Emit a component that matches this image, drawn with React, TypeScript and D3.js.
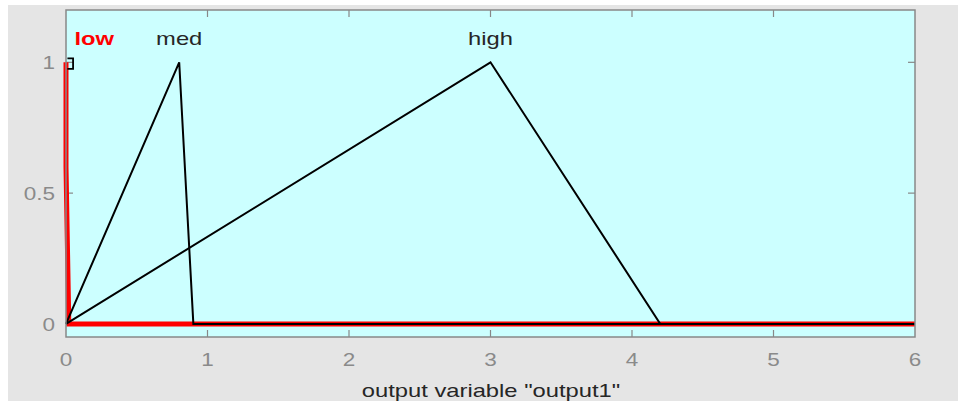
import React, { useEffect, useRef } from 'react';
import * as d3 from 'd3';

// membership functions of "output1"
const mfNames = ['low', 'med', 'high'];
const lowPts: [number, number][] = [[0, 1], [0, 0.6], [0.02, 0], [6, 0]];
const medPts: [number, number][] = [[0, 0], [0.8, 1], [0.9, 0], [6, 0]];
const highPts: [number, number][] = [[0, 0], [3, 1], [4.2, 0], [6, 0]];
const lowCap: [number, number][] = [[0.01, 1.015], [0.05, 1.015], [0.05, 0.975], [0.01, 0.975]];
const labelX = [0.2, 0.8, 3];
const xTicks = [0, 1, 2, 3, 4, 5, 6];
const yTicks = [0, 0.5, 1];
const xTitle = 'output variable "output1"';

export default function App() {
  const ref = useRef<SVGSVGElement>(null);

  useEffect(() => {
    const svg = d3.select(ref.current);
    svg.selectAll('*').remove();

    const W = 958, H = 401;
    const left = 66, right = 915, top = 10, bottom = 337;
    const stretch = 1.25; // the screenshot text is wide

    const x = d3.scaleLinear().domain([0, 6]).range([left, right]);
    const y = d3.scaleLinear().domain([-0.05, 1.2]).range([bottom, top]);

    // grey figure background
    svg.append('rect').attr('width', W).attr('height', H).attr('fill', '#ffffff');
    svg.append('rect').attr('x', 8).attr('y', 5).attr('width', W - 8).attr('height', H - 5).attr('fill', '#e5e5e5');

    // plot box
    svg.append('rect')
      .attr('x', left).attr('y', top)
      .attr('width', right - left).attr('height', bottom - top)
      .attr('fill', '#ccffff');

    const font = 'Liberation Sans, Arial, sans-serif';

    const txt = (g: any, tx: number, ty: number, s: string, size: number, fill: string, anchor: string) =>
      g.append('text')
        .attr('transform', `translate(${tx},${ty}) scale(${stretch},1)`)
        .attr('text-anchor', anchor)
        .attr('font-family', font).attr('font-size', size).attr('fill', fill)
        .text(s);

    // ticks on all four sides, pointing in
    const tickLen = 7;
    const tk = svg.append('g').attr('stroke', '#888').attr('stroke-width', 1.2);
    xTicks.slice(1, -1).forEach(t => {
      tk.append('line').attr('x1', x(t)).attr('x2', x(t)).attr('y1', bottom).attr('y2', bottom - tickLen);
      tk.append('line').attr('x1', x(t)).attr('x2', x(t)).attr('y1', top).attr('y2', top + tickLen);
    });
    yTicks.forEach(t => {
      tk.append('line').attr('x1', left).attr('x2', left + tickLen).attr('y1', y(t)).attr('y2', y(t));
      tk.append('line').attr('x1', right).attr('x2', right - tickLen).attr('y1', y(t)).attr('y2', y(t));
    });

    const fmt = d3.format('~g');
    const xl = svg.append('g');
    xTicks.forEach(d => txt(xl, x(d), 366, fmt(d), 18, '#8a8a8a', 'middle'));
    const yl = svg.append('g');
    yTicks.forEach(d => txt(yl, 55, y(d) + 7, fmt(d), 18, '#8a8a8a', 'end'));

    const line = d3.line<[number, number]>().x(d => x(d[0])).y(d => y(d[1]));
    const plot = svg.append('g');

    // selected MF drawn thick red, others black on top
    plot.append('path').datum(lowPts).attr('d', line)
      .attr('fill', 'none').attr('stroke', '#ff0000').attr('stroke-width', 5);
    plot.append('path').datum(lowCap).attr('d', line)
      .attr('fill', 'none').attr('stroke', '#000').attr('stroke-width', 1.8);
    [medPts, highPts].forEach(pts => {
      plot.append('path').datum(pts).attr('d', line)
        .attr('fill', 'none').attr('stroke', '#000').attr('stroke-width', 2);
    });

    // MF labels
    const ml = svg.append('g');
    mfNames.forEach((n, i) => {
      txt(ml, x(labelX[i]), 45, n, 19, i === 0 ? '#ff0000' : '#262626', 'middle')
        .attr('font-weight', i === 0 ? 'bold' : 'normal');
    });

    // frame
    svg.append('rect')
      .attr('x', left).attr('y', top)
      .attr('width', right - left).attr('height', bottom - top)
      .attr('fill', 'none').attr('stroke', '#888').attr('stroke-width', 1.5);

    txt(svg, 491, 397, xTitle, 19, '#262626', 'middle');
  }, []);

  return (
    <svg ref={ref} width={958} height={401}
      style={{ position: 'absolute', left: 0, top: 0, display: 'block' }} />
  );
}
